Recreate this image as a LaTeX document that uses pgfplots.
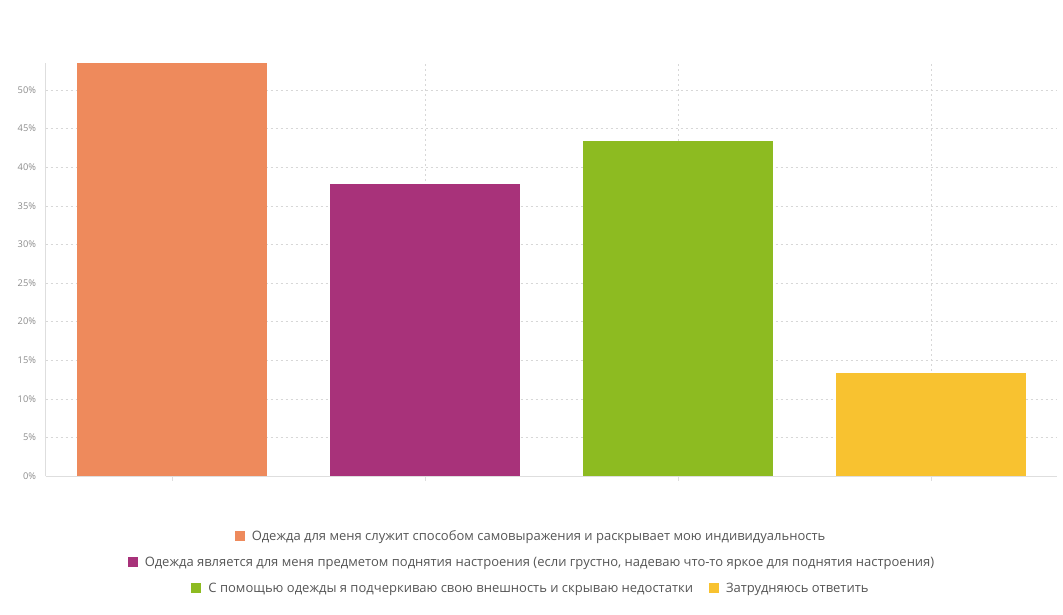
\documentclass[border=0pt]{standalone}
\usepackage{pgfplots}
\pgfplotsset{compat=1.18}
\usepackage{fontspec}
\setmainfont{Open Sans}
\definecolor{c1}{RGB}{238,138,92}
\definecolor{c2}{RGB}{168,50,122}
\definecolor{c3}{RGB}{141,187,33}
\definecolor{c4}{RGB}{248,194,48}
\definecolor{gridc}{RGB}{215,215,215}
\definecolor{axc}{RGB}{222,222,222}
\definecolor{tickc}{RGB}{140,140,140}
\definecolor{legc}{RGB}{85,85,85}
\begin{document}
\begin{tikzpicture}
\useasboundingbox (0,0) rectangle (1063bp,615bp);
\begin{axis}[
  at={(45.5bp,139bp)}, anchor=south west,
  scale only axis, width=1012bp, height=413bp,
  xmin=-0.5, xmax=3.5, ymin=0, ymax=53.5,
  axis lines*=left,
  axis line style={draw=axc, line width=0.8bp},
  ybar, bar width=0.75, bar shift=0,
  xtick={0,1,2,3}, xticklabels={},
  xtick pos=bottom, tick align=outside, major tick length=5bp,
  xtick style={draw=axc, line width=0.8bp},
  ytick={0,5,...,50},
  yticklabels={0\%,5\%,10\%,15\%,20\%,25\%,30\%,35\%,40\%,45\%,50\%},
  ytick style={draw=none},
  yticklabel style={font=\fontsize{9.3bp}{11bp}\selectfont, text=tickc, xshift=-1bp},
  ymajorgrids, xmajorgrids,
  major grid style={draw=gridc, dash pattern=on 2bp off 3bp, line width=0.6bp},
  axis on top=false,
]
\addplot[fill=c1, draw=none] coordinates {(0,53.5)};
\addplot[fill=c2, draw=none] coordinates {(1,37.8)};
\addplot[fill=c3, draw=none] coordinates {(2,43.4)};
\addplot[fill=c4, draw=none] coordinates {(3,13.3)};
\end{axis}
\def\sq#1{{\color{#1}\raisebox{-0.5bp}{\rule{10bp}{10bp}}}\hspace{7bp}}
\begin{scope}[every node/.style={font=\fontsize{13bp}{15bp}\selectfont, text=legc, inner sep=0pt}]
\node at (530bp,78bp) {\sq{c1}Одежда для меня служит способом самовыражения и раскрывает мою индивидуальность};
\node at (531bp,52bp) {\sq{c2}Одежда является для меня предметом поднятия настроения (если грустно, надеваю что-то яркое для поднятия настроения)};
\node at (530bp,26bp) {\sq{c3}С помощью одежды я подчеркиваю свою внешность и скрываю недостатки\hspace{16bp}\sq{c4}Затрудняюсь ответить};
\end{scope}
\end{tikzpicture}
\end{document}
